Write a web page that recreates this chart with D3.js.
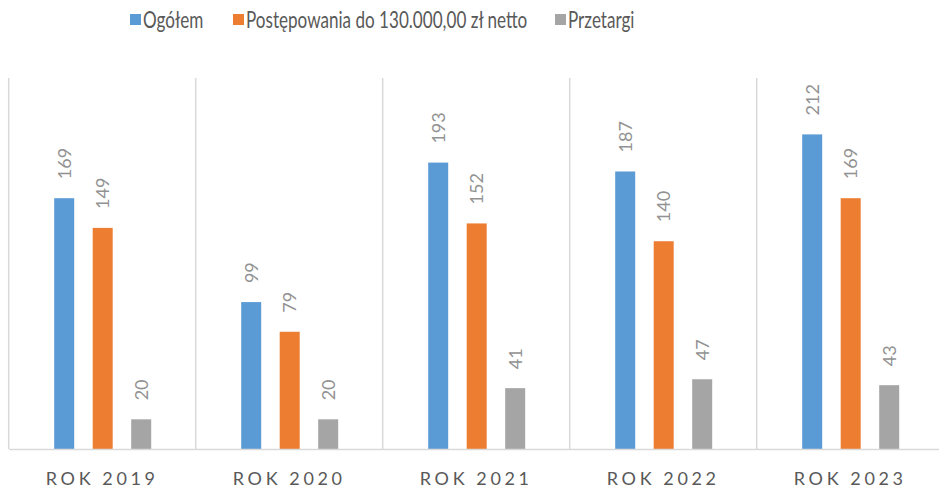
<!DOCTYPE html>
<html>
<head>
<meta charset="utf-8">
<script src="https://cdn.jsdelivr.net/npm/d3@7"></script>
<style>
  body { margin: 0; background: #fff; overflow: hidden; }
  text { font-family: Lato, "Open Sans", sans-serif; }
</style>
</head>
<body>
<div id="chart"></div>
<script>
var years = ["ROK 2019", "ROK 2020", "ROK 2021", "ROK 2022", "ROK 2023"];
var seriesNames = ["Ogółem", "Postępowania do 130.000,00 zł netto", "Przetargi"];
var ogolem = [169, 99, 193, 187, 212];
var postepowania = [149, 79, 152, 140, 169];
var przetargi = [20, 20, 41, 47, 43];
var colors = ["#5B9BD5", "#ED7D31", "#A5A5A5"];

var seriesValues = [ogolem, postepowania, przetargi];

var width = 939, height = 492;
var margin = {top: 78, bottom: 43, left: 8.7};
var step = 187;
var innerW = step * years.length,
    innerH = height - margin.top - margin.bottom;

var svg = d3.select("#chart").append("svg")
    .attr("width", width)
    .attr("height", height);

var canvas = svg.append("g")
    .attr("transform", "translate(" + margin.left + "," + margin.top + ")");

var xScale = d3.scaleBand().domain(years).range([0, innerW]);
// bars: 20px wide, 38.5px apart, first one 45.5px into its category
var xInner = d3.scaleBand().domain(seriesNames)
    .range([45.5, 45.5 + 2 * 38.5 + 20])
    .paddingInner(18.5 / 38.5).paddingOuter(0);
var yScale = d3.scaleLinear().domain([0, 250]).range([innerH, 0]);

// vertical separators between categories
var bounds = years.map(function (d) { return xScale(d); });
canvas.selectAll(".sep").data(bounds).enter().append("line")
    .attr("x1", function (d) { return d; })
    .attr("x2", function (d) { return d; })
    .attr("y1", 0).attr("y2", innerH)
    .attr("stroke", "#d9d9d9").attr("stroke-width", 1.5);

// bars
var rows = [];
years.forEach(function (y, i) {
    seriesNames.forEach(function (s, j) {
        rows.push({year: y, series: s, value: seriesValues[j][i], color: colors[j]});
    });
});

var groups = canvas.selectAll(".bar").data(rows).enter().append("g");
groups.append("rect")
    .attr("x", function (d) { return xScale(d.year) + xInner(d.series); })
    .attr("width", xInner.bandwidth())
    .attr("y", function (d) { return yScale(d.value); })
    .attr("height", function (d) { return innerH - yScale(d.value); })
    .attr("fill", function (d) { return d.color; });

groups.append("text")
    .attr("transform", function (d) {
        var cx = xScale(d.year) + xInner(d.series) + xInner.bandwidth() / 2;
        return "translate(" + (cx + 6.5) + "," + (yScale(d.value) - 19) + ") rotate(-90)";
    })
    .attr("text-anchor", "start")
    .style("font-size", "18px")
    .style("fill", "#929292")
    .text(function (d) { return d.value; });

// baseline axis
var xAxis = d3.axisBottom(xScale).tickSize(0).tickPadding(23);
var ax = canvas.append("g")
    .attr("transform", "translate(0," + innerH + ")")
    .call(xAxis);
ax.select(".domain").attr("stroke", "#d9d9d9").attr("stroke-width", 1.5);
ax.selectAll("text")
    .style("font-size", "18px")
    .style("fill", "#595959")
    .style("letter-spacing", "3.6px")
    .attr("dy", "0.71em");

// legend
var legendX = [130, 233, 555];
var legend = svg.selectAll(".legend").data(seriesNames).enter().append("g")
    .attr("transform", function (d, i) { return "translate(" + legendX[i] + ",14)"; });
legend.append("rect").attr("width", 11).attr("height", 11)
    .attr("fill", function (d, i) { return colors[i]; });
legend.append("text")
    .attr("transform", "translate(13,6) scale(0.76,1)")
    .attr("dy", "0.35em")
    .style("font-size", "22.5px")
    .style("fill", "#595959")
    .text(function (d) { return d; });
</script>
</body>
</html>
